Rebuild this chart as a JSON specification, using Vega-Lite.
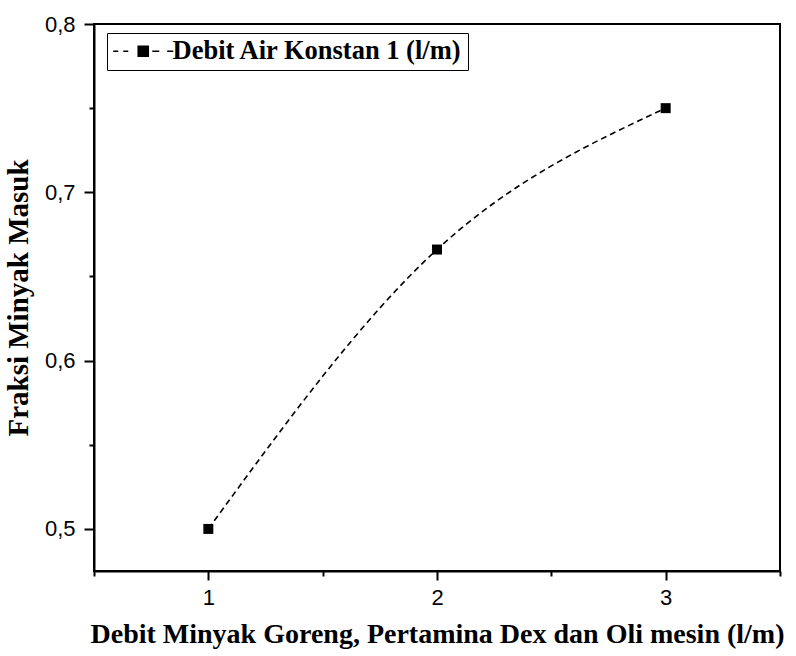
{
  "$schema": "https://vega.github.io/schema/vega-lite/v6.json",
  "width": 686,
  "height": 547,
  "autosize": {"type": "none"},
  "padding": {"left": 94, "top": 24, "right": 16, "bottom": 85},
  "background": "white",
  "config": {
    "view": {"stroke": "black", "strokeWidth": 2},
    "axis": {"grid": false}
  },
  "data": {"values": [
    {"x": 1, "y": 0.5, "series": "Debit Air Konstan 1 (l/m)"},
    {"x": 2, "y": 0.666, "series": "Debit Air Konstan 1 (l/m)"},
    {"x": 3, "y": 0.75, "series": "Debit Air Konstan 1 (l/m)"}
  ]},
  "layer": [
    {
      "mark": {"type": "line", "interpolate": "monotone", "strokeDash": [6, 4], "strokeWidth": 1.6},
      "encoding": {
        "x": {"field": "x", "type": "quantitative", "scale": {"domain": [0.5, 3.5], "nice": false, "zero": false},
          "axis": {"orient": "bottom", "title": "Debit Minyak Goreng, Pertamina Dex dan Oli mesin (l/m)", "values": [1, 2, 3],
            "format": "d", "tickSize": 9, "tickWidth": 2, "tickColor": "black", "domainColor": "black", "domainWidth": 2,
            "labelFont": "Liberation Sans", "labelFontSize": 22, "labelColor": "black", "labelPadding": 7,
            "titleFont": "Liberation Serif", "titleFontWeight": "bold", "titleFontSize": 28, "titleColor": "black", "titlePadding": 12}},
        "y": {"field": "y", "type": "quantitative", "scale": {"domain": [0.475, 0.8], "nice": false, "zero": false},
          "axis": {"orient": "left", "title": "Fraksi Minyak Masuk", "values": [0.5, 0.6, 0.7, 0.8],
            "labelExpr": "replace(format(datum.value, '.1f'), '.', ',')", "tickSize": 10, "tickWidth": 2, "tickColor": "black",
            "domainColor": "black", "domainWidth": 2,
            "labelFont": "Liberation Sans", "labelFontSize": 22, "labelColor": "black", "labelPadding": 9,
            "titleFont": "Liberation Serif", "titleFontWeight": "bold", "titleFontSize": 29, "titleColor": "black", "titlePadding": 11}},
        "color": {"field": "series", "type": "nominal", "scale": {"range": ["black"]},
          "legend": {"title": null, "orient": "none", "legendX": 13, "legendY": 9,
            "strokeColor": "black", "fillColor": "white", "padding": 5, "cornerRadius": 0,
            "symbolType": "M-3,0H-2.5M-2,0H-1.5M-0.5,-0.5H0.5V0.5H-0.5ZM0.9,0H1.6M2.4,0H3",
            "symbolSize": 400, "symbolOffset": 18, "symbolStrokeWidth": 1.6, "symbolFillColor": "black", "symbolStrokeColor": "black",
            "labelFont": "Liberation Serif", "labelFontWeight": "bold", "labelFontSize": 26.5, "labelColor": "black",
            "labelOffset": 16, "labelLimit": 0}}
      }
    },
    {
      "mark": {"type": "point", "shape": "square", "filled": true, "size": 100, "color": "black", "opacity": 1},
      "encoding": {
        "x": {"field": "x", "type": "quantitative",
          "axis": {"orient": "bottom", "title": null, "values": [0.5, 1.5, 2.5, 3.5], "labels": false, "domain": false,
            "tickSize": 5, "tickWidth": 2, "tickColor": "black"}},
        "y": {"field": "y", "type": "quantitative",
          "axis": {"orient": "left", "title": null, "values": [0.55, 0.65, 0.75], "labels": false, "domain": false,
            "tickSize": 5, "tickWidth": 2, "tickColor": "black"}}
      }
    }
  ],
  "resolve": {"axis": {"x": "independent", "y": "independent"}}
}
